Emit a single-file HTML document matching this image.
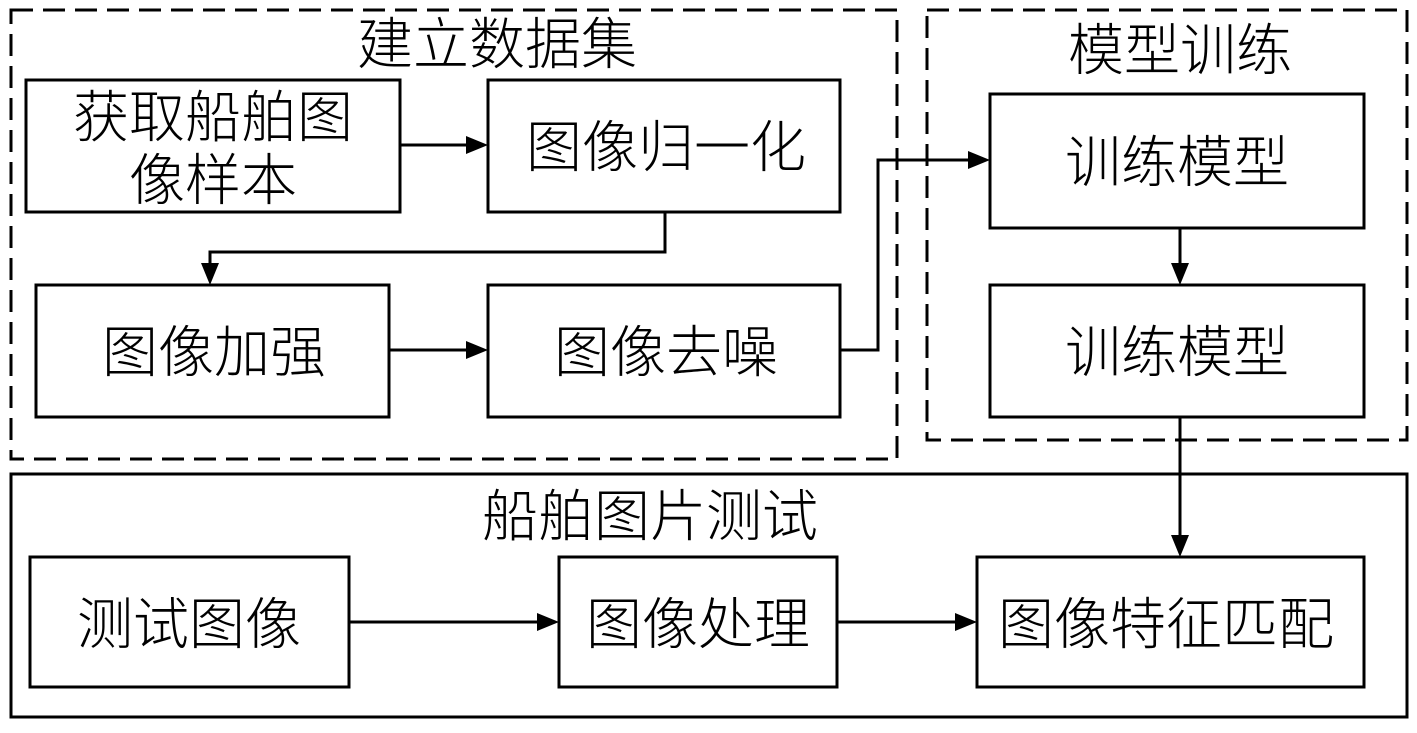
<!DOCTYPE html>
<html><head><meta charset="utf-8"><style>
html,body{margin:0;padding:0;background:#fff;}
svg text{font-family:"Liberation Sans","Noto Sans CJK SC",sans-serif;fill:#000;font-weight:300;}
</style></head><body>
<svg width="1417" height="728" viewBox="0 0 1417 728" xmlns="http://www.w3.org/2000/svg">
<g fill="none" stroke="#000" stroke-width="3">
<rect x="11" y="10" width="886" height="449" stroke-dasharray="22,10"/>
<rect x="927" y="10" width="480" height="430" stroke-dasharray="22,10"/>
<rect x="11" y="474" width="1396" height="243"/>
<rect x="26" y="80" width="374" height="132"/>
<rect x="488" y="80" width="352" height="132"/>
<rect x="36" y="285" width="353" height="132"/>
<rect x="488" y="285" width="352" height="132"/>
<rect x="990" y="94" width="374" height="134"/>
<rect x="990" y="285" width="374" height="132"/>
<rect x="30" y="557" width="319" height="130"/>
<rect x="559" y="557" width="278" height="130"/>
<rect x="977" y="557" width="387" height="130"/>
<polyline points="400,145 470,145"/>
<polyline points="665,212 665,252 210,252 210,268"/>
<polyline points="389,350 470,350"/>
<polyline points="840,350 878,350 878,160 972,160"/>
<polyline points="1180,228 1180,268"/>
<polyline points="1180,417 1180,540"/>
<polyline points="349,622 541,622"/>
<polyline points="837,622 959,622"/>
</g>
<g fill="#000">
<polygon points="488,145 466,136 466,154"/>
<polygon points="210,285 201,263 219,263"/>
<polygon points="488,350 466,341 466,359"/>
<polygon points="990,160 968,151 968,169"/>
<polygon points="1180,285 1171,263 1189,263"/>
<polygon points="1180,557 1171,535 1189,535"/>
<polygon points="559,622 537,613 537,631"/>
<polygon points="977,622 955,613 955,631"/>
</g>
<g font-size="56" text-anchor="middle">
<text x="497" y="64">建立数据集</text>
<text x="1180" y="70">模型训练</text>
<text x="650" y="536">船舶图片测试</text>
<text x="213" y="137">获取船舶图</text>
<text x="213" y="200">像样本</text>
<text x="666" y="167">图像归一化</text>
<text x="214" y="372">图像加强</text>
<text x="666" y="372">图像去噪</text>
<text x="1177" y="182">训练模型</text>
<text x="1177" y="372">训练模型</text>
<text x="189" y="644">测试图像</text>
<text x="698" y="644">图像处理</text>
<text x="1166" y="644">图像特征匹配</text>
</g>
</svg>
</body></html>
